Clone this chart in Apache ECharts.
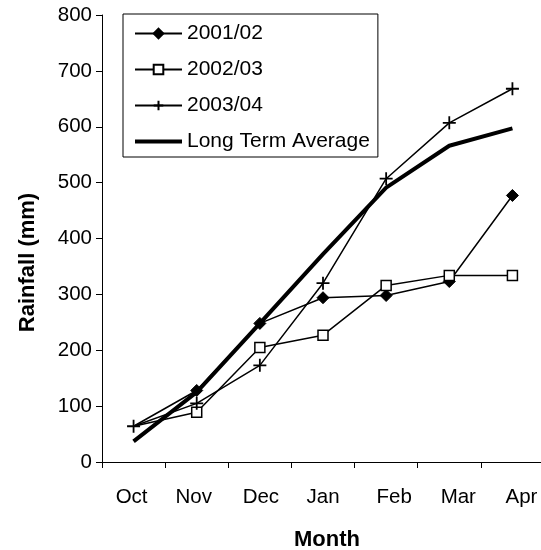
<!DOCTYPE html>
<html>
<head>
<meta charset="utf-8">
<script src="https://cdn.jsdelivr.net/npm/echarts@6/dist/echarts.min.js"></script>
<style>
html,body{margin:0;padding:0;background:#fff;}
#chart{width:541px;height:550px;}
</style>
</head>
<body>
<div id="chart"></div>
<script>
const months = ['Oct', 'Nov', 'Dec', 'Jan', 'Feb', 'Mar', 'Apr'];
const yTicks = [0, 100, 200, 300, 400, 500, 600, 700, 800];
const s2001 = [64, 128, 248, 294, 298, 323, 477];
const s2002 = [64, 89, 205, 227, 316, 334, 334];
const s2003 = [64, 105, 173, 320, 507, 607, 668];
const lta = [37, 125, 248, 372, 491, 566, 597];

// label nudges (px) to match the original's label placement
const labelShift = [-2, -3, 1, 0, 8, 9, 9];

const FONT = '"Liberation Sans", Arial, sans-serif';
const plusPath = 'path://M0,5 L10,5 M5,0 L5,10';

const chart = echarts.init(document.getElementById('chart'), null, {renderer: 'canvas'});

function noFirst(arr) {
  return arr.map((v, i) => i === 0 ? {value: v, symbol: 'none'} : v);
}

const rich = {};
labelShift.forEach((s, i) => {
  rich['s' + i] = {
    fontFamily: FONT, fontSize: 20.5, color: '#000',
    padding: [0, Math.max(0, -2 * s), 0, Math.max(0, 2 * s)]
  };
});

chart.setOption({
  backgroundColor: '#fff',
  animation: false,
  textStyle: {fontFamily: FONT, color: '#000'},
  grid: {left: 102, top: 15, width: 442, height: 447, containLabel: false, outerBoundsMode: 'none'},
  legend: {
    left: 123, top: 14,
    orient: 'vertical',
    backgroundColor: '#fff',
    borderColor: '#000',
    borderWidth: 1,
    padding: [9, 8, 5, 10],
    itemGap: 15,
    itemWidth: 47,
    itemHeight: 12,
    textStyle: {fontFamily: FONT, fontSize: 21, color: '#000'},
    data: [
      '2001/02', '2002/03', '2003/04',
      {name: 'Long Term Average', itemStyle: {opacity: 0}, lineStyle: {width: 4}}
    ]
  },
  xAxis: {
    type: 'category',
    data: months,
    boundaryGap: true,
    axisLine: {lineStyle: {color: '#000', width: 1}},
    axisTick: {show: true, interval: 0, length: 6, alignWithLabel: false, lineStyle: {color: '#000'}},
    axisLabel: {
      interval: 0, hideOverlap: false,
      fontFamily: FONT, fontSize: 20.5, color: '#000', margin: 25,
      formatter: (value, index) => '{s' + index + '|' + value + '}',
      rich: rich
    },
    name: 'Month',
    nameLocation: 'middle',
    nameGap: 67,
    nameTextStyle: {fontFamily: FONT, fontSize: 22, fontWeight: 'bold', color: '#000', padding: [0, 0, 0, 8]}
  },
  yAxis: {
    type: 'value',
    min: yTicks[0],
    max: yTicks[yTicks.length - 1],
    interval: 100,
    splitLine: {show: false},
    axisLine: {show: true, lineStyle: {color: '#000', width: 1}},
    axisTick: {show: true, length: 6, lineStyle: {color: '#000'}},
    axisLabel: {fontFamily: FONT, fontSize: 20.5, color: '#000', margin: 10},
    name: 'Rainfall (mm)',
    nameLocation: 'middle',
    nameGap: 63,
    nameTextStyle: {fontFamily: FONT, fontSize: 22, fontWeight: 'bold', color: '#000', padding: [0, 48, 0, 0]}
  },
  series: [
    {
      name: '2001/02', type: 'line', data: noFirst(s2001),
      symbol: 'diamond', symbolSize: 12, showAllSymbol: true,
      lineStyle: {color: '#000', width: 1.5},
      itemStyle: {color: '#000', borderColor: '#000', borderWidth: 1},
      z: 3
    },
    {
      name: '2002/03', type: 'line', data: noFirst(s2002),
      symbol: 'rect', symbolSize: 10, showAllSymbol: true,
      lineStyle: {color: '#000', width: 1.5},
      itemStyle: {color: '#fff', borderColor: '#000', borderWidth: 1.5},
      z: 4
    },
    {
      name: '2003/04', type: 'line', data: s2003,
      symbol: plusPath, symbolSize: 13, showAllSymbol: true,
      lineStyle: {color: '#000', width: 1.5},
      itemStyle: {color: 'rgba(0,0,0,0)', borderColor: '#000', borderWidth: 1.8},
      z: 5
    },
    {
      name: 'Long Term Average', type: 'line', data: lta,
      symbol: 'none',
      lineStyle: {color: '#000', width: 4},
      itemStyle: {color: '#000'},
      z: 2
    }
  ]
});
</script>
</body>
</html>
